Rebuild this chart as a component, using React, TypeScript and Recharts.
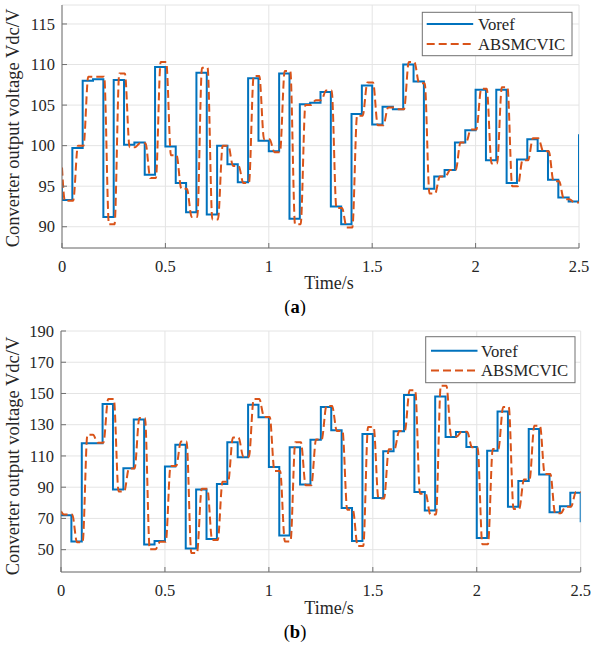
import React from 'react';
import { LineChart, Line, XAxis, YAxis, CartesianGrid } from 'recharts';

// ---------- data ----------
const xTicks = [0, 0.5, 1, 1.5, 2, 2.5];
const topYTicks = [90, 95, 100, 105, 110, 115];
const botYTicks = [50, 70, 90, 110, 130, 150, 170, 190];
const stepDuration = 0.05;
const endTime = 2.5;

// (a) reference voltage per 0.05 s interval
const topVoref = [93.3, 99.7, 108.0, 108.2, 91.2, 108.1, 100.1, 100.4, 96.4, 109.7,
  99.9, 95.4, 91.8, 109.0, 91.5, 100.0, 97.7, 95.5, 108.3, 100.6,
  99.3, 108.9, 91.0, 105.1, 105.3, 106.6, 92.5, 90.3, 103.9, 107.4,
  102.6, 104.8, 104.5, 110.0, 107.9, 94.7, 96.2, 97.0, 100.4, 101.9,
  106.9, 98.2, 106.9, 95.4, 98.3, 100.8, 99.35, 95.8, 93.6, 93.1];
const topVorefStart = 95.5;
const topVorefEnd = 101.4;
// (a) ABSMCVIC level reached in each interval
const topAbs = [93.2, 100.0, 108.5, 108.5, 90.3, 108.9, 99.8, 100.3, 96.0, 110.3,
  98.8, 94.7, 91.2, 109.6, 90.9, 100.0, 97.5, 95.4, 108.6, 100.8,
  99.2, 109.2, 90.3, 105.0, 105.6, 106.8, 92.3, 89.9, 103.7, 107.8,
  102.5, 104.7, 104.5, 110.3, 107.7, 94.1, 96.2, 97.0, 100.4, 102.0,
  107.0, 97.8, 107.2, 95.0, 98.2, 100.9, 99.3, 95.6, 93.4, 93.0];
const topAbsStart = 97.3;

// (b) reference voltage per 0.05 s interval
const botVoref = [72.1, 55.3, 118.1, 118.1, 143.2, 88.5, 102.1, 133.4, 53.3, 55.5,
  103.3, 117.2, 50.8, 88.5, 56.8, 92.1, 118.7, 109.1, 142.8, 134.7,
  103.0, 59.0, 115.5, 91.7, 120.4, 141.3, 126.4, 76.6, 55.5, 124.1,
  83.0, 113.0, 125.8, 149.0, 87.0, 75.1, 148.1, 122.1, 125.3, 115.8,
  57.4, 113.4, 138.5, 77.4, 94.0, 127.3, 98.1, 74.0, 77.8, 86.4];
const botVorefStart = 72.1;
const botVorefEnd = 67.6;
// (b) ABSMCVIC level reached in each interval
const botAbs = [72.5, 54.8, 123.5, 118.5, 146.5, 87.3, 102.0, 134.3, 50.2, 55.0,
  103.5, 119.3, 47.8, 89.0, 56.2, 93.5, 121.8, 109.5, 146.4, 135.0,
  100.3, 55.3, 118.8, 91.2, 120.5, 142.0, 126.0, 75.5, 52.3, 128.5,
  82.7, 114.3, 126.0, 152.0, 85.8, 72.5, 155.0, 122.5, 125.5, 115.5,
  53.5, 114.5, 141.3, 76.1, 94.9, 129.4, 98.5, 73.3, 77.5, 87.0];
const botAbsStart = 74.5;

const seriesNames = ['Voref', 'ABSMCVIC'];
const yLabel = 'Converter output voltage Vdc/V';
const xLabel = 'Time/s';

// ---------- builders ----------
type Pt = { t: number; v: number };

function buildStep(values: number[], start: number, end: number): Pt[] {
  const pts: Pt[] = [{ t: 0, v: start }];
  values.forEach((v, k) => pts.push({ t: +(k * stepDuration).toFixed(4), v }));
  pts.push({ t: endTime, v: end });
  return pts;
}

function buildResponse(values: number[], start: number): Pt[] {
  const pts: Pt[] = [{ t: 0, v: start }, { t: 0.014, v: values[0] }];
  for (let k = 1; k < values.length; k++) {
    const t0 = k * stepDuration;
    pts.push({ t: +(t0 + 0.004).toFixed(4), v: values[k - 1] });
    pts.push({ t: +(t0 + 0.027).toFixed(4), v: values[k] });
  }
  pts.push({ t: endTime, v: values[values.length - 1] });
  return pts;
}

// ---------- styles ----------
const FONT = 'Liberation Serif, Times New Roman, serif';
const BLUE = '#0072BD';
const ORANGE = '#D95319';
const AXIS = '#707070';
const GRID = '#e4e4e4';
const TEXT = '#262626';
const TICK_LEN = 5;
const serifStyle = { fontFamily: FONT };

const BottomTick = (p: any) => {
  const { x, y, payload, dy } = p;
  return (
    <g>
      <line x1={x} y1={y} x2={x} y2={y - TICK_LEN} stroke={AXIS} strokeWidth={1} />
      <text x={x} y={y + dy} textAnchor="middle" style={serifStyle} fontSize={16.5} fill={TEXT}>
        {String(payload.value)}
      </text>
    </g>
  );
};
const TopTick = (p: any) => {
  const { x, y } = p;
  return <line x1={x} y1={y} x2={x} y2={y + TICK_LEN} stroke={AXIS} strokeWidth={1} />;
};
const LeftTick = (p: any) => {
  const { x, y, payload } = p;
  return (
    <g>
      <line x1={x} y1={y} x2={x + TICK_LEN} y2={y} stroke={AXIS} strokeWidth={1} />
      <text x={x - 7} y={y + 5.6} textAnchor="end" style={serifStyle} fontSize={16.5} fill={TEXT}>
        {String(payload.value)}
      </text>
    </g>
  );
};
const RightTick = (p: any) => {
  const { x, y } = p;
  return <line x1={x} y1={y} x2={x - TICK_LEN} y2={y} stroke={AXIS} strokeWidth={1} />;
};

type PanelProps = {
  top: number;
  height: number;
  marginTop: number;
  yAxisWidth: number;
  rightMargin: number;
  xAxisHeight: number;
  domain: [number, number];
  yTicks: number[];
  voref: Pt[];
  abs: Pt[];
  tickDy: number;
  yLabelY: number;
  xLabelBaseline: number;
  captionBaseline: number;
  caption: string;
  legend: { left: number; top: number; width: number; height: number; row1: number; row2: number; lineX: number; textX: number };
};

function Panel(props: PanelProps) {
  const { top, height, marginTop, yAxisWidth, rightMargin, xAxisHeight, domain, yTicks, voref, abs, tickDy, legend } = props;
  return (
    <div style={{ position: 'absolute', left: 0, top, width: 594, height, fontFamily: FONT }}>
      <LineChart width={594} height={height} margin={{ top: marginTop, right: rightMargin, bottom: 0, left: 0 }}>
        <CartesianGrid stroke={GRID} strokeWidth={1} />
        <XAxis
          dataKey="t"
          type="number"
          domain={[0, endTime]}
          ticks={xTicks}
          allowDataOverflow
          height={xAxisHeight}
          tickSize={0}
          tickMargin={0}
          tickLine={false}
          axisLine={{ stroke: AXIS, strokeWidth: 1 }}
          tick={(p: any) => <BottomTick {...p} dy={tickDy} />}
          interval={0}
        />
        <XAxis
          xAxisId="top"
          orientation="top"
          dataKey="t"
          type="number"
          domain={[0, endTime]}
          ticks={xTicks}
          allowDataOverflow
          height={0}
          tickSize={0}
          tickMargin={0}
          tickLine={false}
          axisLine={{ stroke: AXIS, strokeWidth: 1 }}
          tick={(p: any) => <TopTick {...p} />}
          interval={0}
        />
        <YAxis
          type="number"
          domain={domain}
          ticks={yTicks}
          allowDataOverflow
          width={yAxisWidth}
          tickSize={0}
          tickMargin={0}
          tickLine={false}
          axisLine={{ stroke: AXIS, strokeWidth: 1 }}
          tick={(p: any) => <LeftTick {...p} />}
          interval={0}
        />
        <YAxis
          yAxisId="right"
          orientation="right"
          type="number"
          domain={domain}
          ticks={yTicks}
          allowDataOverflow
          width={0}
          tickSize={0}
          tickMargin={0}
          tickLine={false}
          axisLine={{ stroke: AXIS, strokeWidth: 1 }}
          tick={(p: any) => <RightTick {...p} />}
          interval={0}
        />
        <Line
          data={voref}
          dataKey="v"
          type="stepAfter"
          stroke={BLUE}
          strokeWidth={2}
          dot={false}
          activeDot={false}
          isAnimationActive={false}
        />
        <Line
          data={abs}
          dataKey="v"
          type="monotone"
          stroke={ORANGE}
          strokeWidth={2}
          strokeDasharray="8 4"
          dot={false}
          activeDot={false}
          isAnimationActive={false}
        />
      </LineChart>

      {/* y label */}
      <div
        style={{
          position: 'absolute', left: 13, top: props.yLabelY - top,
          transform: 'translate(-50%, -50%) rotate(-90deg)',
          whiteSpace: 'nowrap', fontFamily: FONT, fontSize: 18.5, lineHeight: 1, color: TEXT,
        }}
      >
        {yLabel}
      </div>

      <svg style={{ position: 'absolute', left: 0, top: 0, pointerEvents: 'none', fontFamily: FONT }} width={594} height={height}>
        <text x={329} y={props.xLabelBaseline - top} textAnchor="middle" style={serifStyle} fontSize={18} fill={TEXT}>
          {xLabel}
        </text>
        <text x={295} y={props.captionBaseline - top} textAnchor="middle" style={serifStyle} fontSize={18.5} fill="#000">
          (<tspan fontWeight="bold">{props.caption}</tspan>)
        </text>
        {/* legend */}
        <rect x={legend.left} y={legend.top - top} width={legend.width} height={legend.height} fill="#fff" stroke={AXIS} strokeWidth={1} />
        <line x1={legend.lineX} x2={legend.lineX + 46.5} y1={legend.row1 - top} y2={legend.row1 - top} stroke={BLUE} strokeWidth={2} />
        <text x={legend.textX} y={legend.row1 - top + 5.8} style={serifStyle} fontSize={16.7} fill={TEXT}>{seriesNames[0]}</text>
        <line x1={legend.lineX} x2={legend.lineX + 46.5} y1={legend.row2 - top} y2={legend.row2 - top} stroke={ORANGE} strokeWidth={2} strokeDasharray="8 4" />
        <text x={legend.textX} y={legend.row2 - top + 5.8} style={serifStyle} fontSize={16.7} fill={TEXT}>{seriesNames[1]}</text>
      </svg>
    </div>
  );
}

export default function App() {
  const topV = buildStep(topVoref, topVorefStart, topVorefEnd);
  const topA = buildResponse(topAbs, topAbsStart);
  const botV = buildStep(botVoref, botVorefStart, botVorefEnd);
  const botA = buildResponse(botAbs, botAbsStart);
  return (
    <div style={{ position: 'absolute', left: 0, top: 0, width: 594, height: 651, background: '#fff', overflow: 'hidden' }}>
      <Panel
        top={0}
        height={316}
        marginTop={5}
        yAxisWidth={62}
        rightMargin={15}
        xAxisHeight={68}
        domain={[87.38, 117.34]}
        yTicks={topYTicks}
        voref={topV}
        abs={topA}
        tickDy={23.5}
        yLabelY={128}
        xLabelBaseline={288.5}
        captionBaseline={313}
        caption="a"
        legend={{ left: 422.3, top: 12.3, width: 149.7, height: 43.4, row1: 24, row2: 44, lineX: 426.7, textX: 478 }}
      />
      <Panel
        top={316}
        height={335}
        marginTop={15}
        yAxisWidth={61}
        rightMargin={13.3}
        xAxisHeight={79}
        domain={[35.7, 190]}
        yTicks={botYTicks}
        voref={botV}
        abs={botA}
        tickDy={24}
        yLabelY={456}
        xLabelBaseline={614}
        captionBaseline={638}
        caption="b"
        legend={{ left: 425.7, top: 336.7, width: 149.3, height: 46, row1: 350.7, row2: 370.5, lineX: 431, textX: 481 }}
      />
    </div>
  );
}
